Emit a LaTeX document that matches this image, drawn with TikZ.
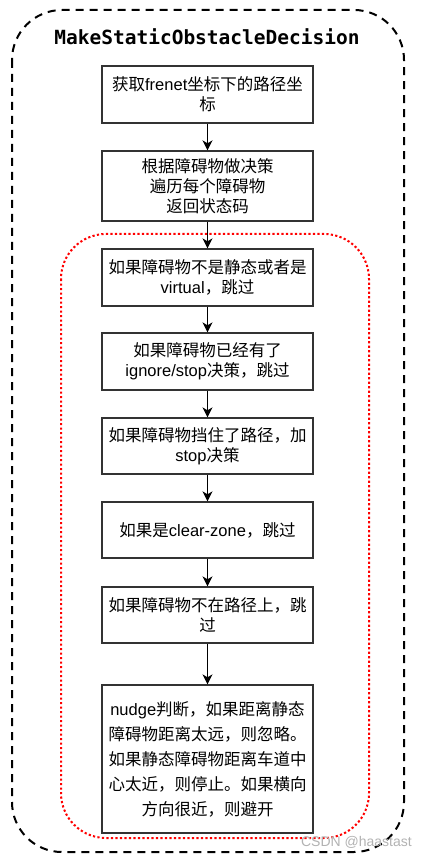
\documentclass[tikz,border=0pt]{standalone}
\usepackage{fontspec}
\setmainfont{Liberation Sans}
\newfontfamily\cjk{Noto Sans CJK SC}
\newfontfamily\titlemono{DejaVu Sans Mono}
\usetikzlibrary{arrows.meta}
\newcommand\zh[1]{{\cjk #1}}
\begin{document}
\begin{tikzpicture}[x=1pt,y=-1pt,
  stepbox/.style={draw=black!80, line width=1.3pt, minimum width=211pt, inner sep=0pt, align=center, font=\fontsize{16.5}{20}\selectfont},
  flow/.style={-{Stealth[length=10pt,width=10pt,inset=3pt]}, line width=1.3pt},
  outerframe/.style={dash pattern=on 8pt off 6pt, line width=2pt, rounded corners=50pt},
  innerframe/.style={draw=red, line width=2pt, dash pattern=on 2.2pt off 2.3pt, rounded corners=45pt}
]
\useasboundingbox (0,0) rectangle (424,858);
\draw[outerframe] (12,10) rectangle (404,852);
\draw[innerframe] (61,234) rectangle (369,838);
\node[font=\titlemono\bfseries\fontsize{19.5}{20}\selectfont] (title) at (207,37) {MakeStaticObstacleDecision};

\node[stepbox, minimum height=57pt] (b1) at (207.5,94.5) {\zh{获取}frenet\zh{坐标下的路径坐}\\\zh{标}};
\node[stepbox, minimum height=70pt] (b2) at (207.5,186) {\zh{根据障碍物做决策}\\\zh{遍历每个障碍物}\\\zh{返回状态码}};
\node[stepbox, minimum height=57pt] (b3) at (207.5,277.5) {\zh{如果障碍物不是静态或者是}\\virtual\zh{，跳过}};
\node[stepbox, minimum height=57pt] (b4) at (207.5,361.5) {\zh{如果障碍物已经有了}\\ignore/stop\zh{决策，跳过}};
\node[stepbox, minimum height=56pt] (b5) at (207.5,446) {\zh{如果障碍物挡住了路径，加}\\stop\zh{决策}};
\node[stepbox, minimum height=56pt] (b6) at (207.5,530) {\zh{如果是}clear-zone\zh{，跳过}};
\node[stepbox, minimum height=56pt] (b7) at (207.5,615) {\zh{如果障碍物不在路径上，跳}\\\zh{过}};
\node[stepbox, minimum height=148pt, font=\fontsize{16.5}{25}\selectfont] (b8) at (207.5,759) {nudge\zh{判断，如果距离静态}\\\zh{障碍物距离太远，则忽略。}\\\zh{如果静态障碍物距离车道中}\\\zh{心太近，则停止。如果横向}\\\zh{方向很近，则避开}};

\draw[flow] (b1) -- (b2);
\draw[flow] (b2) -- (b3);
\draw[flow] (b3) -- (b4);
\draw[flow] (b4) -- (b5);
\draw[flow] (b5) -- (b6);
\draw[flow] (b6) -- (b7);
\draw[flow] (b7) -- (b8);

\node[text=gray!60, font=\fontsize{14}{14}\selectfont, anchor=east, inner sep=0pt] (wm) at (412,842) {CSDN @haastast};
\end{tikzpicture}
\end{document}
